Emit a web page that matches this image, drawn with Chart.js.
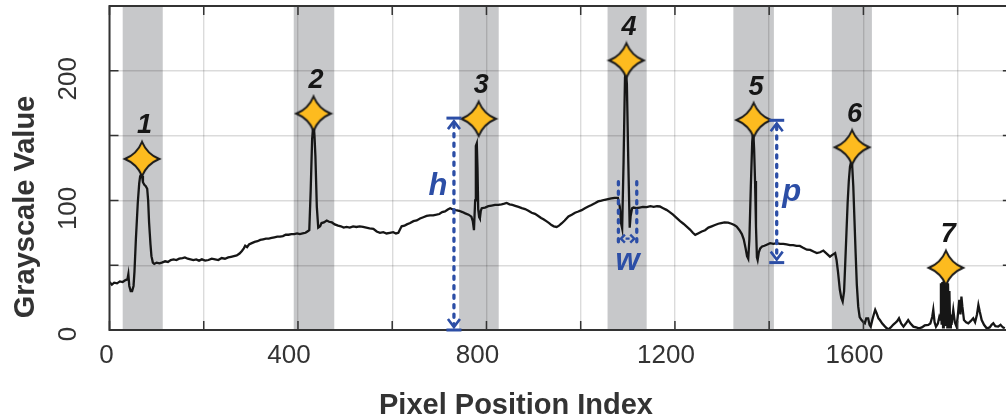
<!DOCTYPE html>
<html>
<head>
<meta charset="utf-8">
<script src="https://cdn.jsdelivr.net/npm/chart.js@4.4.1/dist/chart.umd.min.js"></script>
<style>
  html, body { margin: 0; padding: 0; background: #fff; }
  canvas { display: block; }
</style>
</head>
<body>
<canvas id="profile" width="1006" height="420"></canvas>
<script>
// Grayscale profile along the scan line
const pixelIndex = [
  0,5,10,16,22,28,34,38,40,42, 45,48,51,53,56,60,63,65,67,69, 71,74,77,80,82,84,87,89,92,95, 100,106,111,
  118,124,130,136,142,148,155,160,166,172, 178,184,190,196,203,210,217,224,231,238, 245,252,258,264,270,276,281,285,288,292,
  296,302,308,314,320,326,332,338,344,350, 356,362,368,374,380,386,392,398,404,410, 416,420,424,
  427,430,433,435,437,440,443,447,450,455, 461,466,472,478,485,491,497,503,510,517, 524,531,538,545,552,560,567,574,581,588, 595,602,608,613,
  617,620,626,631,638,645,652,659,666,673, 680,687,694,700,706,712,718,723,729,735, 742,749,755,762,768,771,773.5,776,777.5,779.5, 781,782.5,784.5,786,788,790,
  797,804,811,818,825,832,838,843,849,855, 861,868,875,882,889,896,903,910,916,921, 927,933,938,943,949,954,960,966,974,981,
  988,995,1002,1009,1016,1023,1030,1037,1044,1051, 1058,1065,1072,1079,
  1083,1086,1088,1091,1094,1096,1098,1101,1104,1106, 1109,1112,
  1118,1125,1132,1140,1148,1155,1162,1168,1175,1182, 1189,1196,1204,1211,1218,1225,1232,1238,1243,1249, 1257,1264,1271,1278,1285,1292,1298,1305,1313,1320, 1326,1331,1337,1342,1346,
  1350,1353,1355.6,1358,1361,1364,1366,1368,1370,1372, 1374,1375.5,1378,1381,1385,1390,1396,1402,1409,1416, 1423,1430,1437,1444,1451,1458,1465,1472,1480,1487, 1494,1501,1508,1515,1522,1529,1534,1540,
  1543,1546,1550,1553,1556,1559,1561,1564,1566.5,1569, 1571.5,1574,1576,1578.5,1581,1583.5,1586,1589,1592,1596, 1600,1603,1606,1610,1613,1615.5,1619,1622,1625,1628,
  1632,1635,1640,1645,1649,1653,1658,1663,1667,1672, 1675.5,1680,1685,1690,1695,1700,
  1706,1712,1718,1724,1730,1737.7,1742,1746,1748.3,1751, 1754,1758,1761,1763,1764.5,1766,1767.5,1769,1770.5,1772,
  1773.5,1775,1776.5,1778,1779.5,1781,1782.5,1784,1785.5,1787, 1790.7,1794,1797.6,1800,1803.5,1806,1808,1810,1813.4,1818,
  1822.6,1828,1833,1837,1841,1844,1847,1851,1856,1861.7, 1868,1872,1875.7,1880,1886,1891,1896,1900
];
const grayValue = [
  37,35,36.5,36,37.5,37,38.5,39,43,34, 30,30,34,45,70,98,113,118.5,120,119, 114,112,111,109,100,83,66,57,52,51, 52,51.5,52,
  53,52.5,54,54.5,54,55,55.5,56,55,54.5, 54,54.5,53.5,54.5,53.5,54,55,54.5,54,55.5, 55,56,56.5,57,57.5,59,61,63,65,64,
  66,67,68,68.5,69.5,70,70.5,70.5,71,71.5, 72,72,72.5,73.5,73.5,74,74,74.5,74,74.5, 75,76,77,
  108,147,161,150,134,95,79,80,82.5,83, 84.5,83.5,83,81.5,80.5,80,79,79.5,79,80, 79.5,80,79.5,79,78.5,78,76,75,75.5,74.5, 75,75.5,74.5,75,
  78,80,80.5,81.5,82.5,84,84.5,86,87,88, 88.5,88.5,89,89.5,91,91.5,93,94,93,92.5, 92,91,90,89,87.5,84,77,100,142,144, 125,93,87,86,92,94,
  94.5,95.5,96,96.5,96.5,97,97.5,98,97,96.5, 95.8,95,94,93.3,92,90.5,89.6,88,86.5,85.5, 84,82.5,81,80,79.5,80.5,82.4,84.5,87.6,89,
  90.5,91.4,92.5,94,95.3,96.5,97.8,99.2,99.8,100.5, 101,101.5,102,102,
  95,82,78.5,130,195,200,190,130,79,88, 94,94.5,
  94,94.5,95,94.8,95.5,95,95.5,95.3,94,92.7, 91,89,86.3,84,82,79.8,77.5,75,73.4,74.5, 76,77,79,80,81,82,82.5,83,82.9,82, 81,79.8,77,74,70,
  63,57,55,70,110,145,155,140,115,80, 56,54,60,63,64.5,65,66,67,66.5,67, 66.5,66.5,66,65.5,65.5,64.9,64.9,63.5,62,61.8, 60.5,59.3,60,61.3,59,56.6,58,59.3,
  54,45,31,25,22,30,47.7,75,98,115, 126,130,128,111,85,59,35,18,10,7.7, 6,5.2,9,9,4,2.6,8,12,15.5,13,
  9,7.7,5,3,1.5,0.5,2,4,5.2,7, 9,5,2.6,5,7.7,5,
  2.6,2,1.3,2,3.5,3.9,5,10,15.5,6, 2.6,5,10,8,36,4,37,2,38,5,
  38.6,3,37,2,36,6,30,2,12,4, 15.5,6,2.6,10,23.2,12,25.8,18,7.7,6,
  5.2,7,9,6,12,19.3,14,7.7,4,1.3, 2,4,5.2,3,2.6,4,2,1.3
];

// Detected peaks
const peakX = [69, 433, 783.5, 1097, 1367, 1576, 1775];
const peakY = [132, 167, 163, 208, 162, 141, 48];
const peakLabels = ['1', '2', '3', '4', '5', '6', '7'];

// Shaded peak windows
const bandStart = [28, 391, 742, 1057, 1324, 1533];
const bandEnd   = [113, 477, 826, 1140, 1410, 1618];

// Axis labels
const xTickLabels = [0, 400, 800, 1200, 1600];
const yTickLabels = [0, 100, 200];

// Peak measures: height h, prominence p, width w
const hMeasure = [731, 0, 163.5];
const pMeasure = [1416, 52, 161.8];
const wMeasure = [1080, 1119, 65, 116, 70.5];

const BLUE = '#2c4ea6';
const INK = '#333333';

function makeStar() {
  const c = document.createElement('canvas');
  c.width = 40; c.height = 40;
  const g = c.getContext('2d');
  const m = 20, R = 17.2, k = 5;
  g.beginPath();
  g.moveTo(m, m - R);
  g.quadraticCurveTo(m + k, m - k, m + R, m);
  g.quadraticCurveTo(m + k, m + k, m, m + R);
  g.quadraticCurveTo(m - k, m + k, m - R, m);
  g.quadraticCurveTo(m - k, m - k, m, m - R);
  g.closePath();
  g.fillStyle = '#fdbb1f';
  g.fill();
  g.lineWidth = 1.9;
  g.lineJoin = 'miter';
  g.strokeStyle = '#1a1a1a';
  g.stroke();
  return c;
}

const bandsPlugin = {
  id: 'bands',
  beforeDraw(chart) {
    const { ctx, chartArea: a, scales: { x } } = chart;
    ctx.save();
    ctx.fillStyle = '#c7c8ca';
    for (let i = 0; i < bandStart.length; i++) {
      const x0 = x.getPixelForValue(bandStart[i]);
      const x1 = x.getPixelForValue(bandEnd[i]);
      ctx.fillRect(x0, a.top, x1 - x0, a.bottom - a.top);
    }
    ctx.restore();
  }
};

function dotted(ctx, x0, y0, x1, y1) {
  ctx.save();
  ctx.setLineDash([3.2, 6.3]);
  ctx.lineCap = 'round';
  ctx.lineWidth = 3.3;
  ctx.beginPath();
  ctx.moveTo(x0, y0);
  ctx.lineTo(x1, y1);
  ctx.stroke();
  ctx.restore();
}

// bar plus chevron; dir = -1 for the upper end, +1 for the lower end
function endCap(ctx, px, py, dir) {
  ctx.save();
  ctx.lineWidth = 3;
  ctx.beginPath();
  ctx.moveTo(px - 7.5, py);
  ctx.lineTo(px + 7.5, py);
  ctx.stroke();
  ctx.lineWidth = 2.6;
  ctx.beginPath();
  ctx.moveTo(px - 6, py - dir * 11);
  ctx.lineTo(px, py - dir * 3);
  ctx.lineTo(px + 6, py - dir * 11);
  ctx.stroke();
  ctx.restore();
}

const framePlugin = {
  id: 'frame',
  afterDraw(chart) {
    const { ctx, chartArea: a, scales: { x, y } } = chart;
    const T = 9;
    const rightEdge = x.getPixelForValue(1915);
    ctx.save();

    // inward tick marks
    ctx.strokeStyle = INK;
    ctx.lineWidth = 1.5;
    ctx.beginPath();
    for (let v = 0; v <= 1900; v += 200) {
      const px = x.getPixelForValue(v);
      ctx.moveTo(px, a.bottom); ctx.lineTo(px, a.bottom - T);
      ctx.moveTo(px, a.top); ctx.lineTo(px, a.top + T);
    }
    for (let v = 0; v <= 250; v += 50) {
      const py = y.getPixelForValue(v);
      ctx.moveTo(a.left, py); ctx.lineTo(a.left + T, py);
      ctx.moveTo(rightEdge, py); ctx.lineTo(rightEdge - T, py);
    }
    ctx.stroke();

    // axes box
    ctx.lineWidth = 2;
    ctx.beginPath();
    ctx.moveTo(rightEdge, a.top);
    ctx.lineTo(a.left, a.top);
    ctx.lineTo(a.left, a.bottom);
    ctx.lineTo(rightEdge, a.bottom);
    ctx.stroke();

    // tick labels
    ctx.fillStyle = INK;
    ctx.font = '26px "Liberation Sans", Arial, sans-serif';
    ctx.textAlign = 'center';
    ctx.textBaseline = 'middle';
    xTickLabels.forEach(v => {
      ctx.fillText(String(v), x.getPixelForValue(v) + (v === 0 ? -3 : -9), 356);
    });
    yTickLabels.forEach(v => {
      ctx.save();
      ctx.translate(69, y.getPixelForValue(v) + (v === 0 ? 4 : 8));
      ctx.rotate(-Math.PI / 2);
      ctx.fillText(String(v), 0, 0);
      ctx.restore();
    });

    // axis titles
    ctx.font = 'bold 29px "Liberation Sans", Arial, sans-serif';
    ctx.textBaseline = 'alphabetic';
    ctx.fillText('Pixel Position Index', 516, 413.5);
    ctx.save();
    ctx.translate(33.5, 207);
    ctx.rotate(-Math.PI / 2);
    ctx.fillText('Grayscale Value', 0, 0);
    ctx.restore();

    // measurement markers
    ctx.strokeStyle = BLUE;
    ctx.fillStyle = BLUE;

    const hx = x.getPixelForValue(hMeasure[0]);
    const hb = y.getPixelForValue(hMeasure[1]);
    const ht = y.getPixelForValue(hMeasure[2]);
    dotted(ctx, hx, ht + 6, hx, hb - 6);
    endCap(ctx, hx, ht, -1);
    endCap(ctx, hx, hb, 1);

    const px = x.getPixelForValue(pMeasure[0]);
    const pb = y.getPixelForValue(pMeasure[1]);
    const pt = y.getPixelForValue(pMeasure[2]);
    dotted(ctx, px, pt + 6, px, pb - 6);
    endCap(ctx, px, pt, -1);
    endCap(ctx, px, pb, 1);

    const wl = x.getPixelForValue(wMeasure[0]);
    const wr = x.getPixelForValue(wMeasure[1]);
    const wb = y.getPixelForValue(wMeasure[2]);
    const wt = y.getPixelForValue(wMeasure[3]);
    const wy = y.getPixelForValue(wMeasure[4]);
    dotted(ctx, wl, wt + 2, wl, wb);
    dotted(ctx, wr, wt + 2, wr, wb);
    ctx.save();
    ctx.lineWidth = 2.4;
    ctx.beginPath();
    ctx.moveTo(wl + 6.5, wy - 4); ctx.lineTo(wl + 2.5, wy); ctx.lineTo(wl + 6.5, wy + 4);
    ctx.moveTo(wr - 6.5, wy - 4); ctx.lineTo(wr - 2.5, wy); ctx.lineTo(wr - 6.5, wy + 4);
    ctx.moveTo((wl + wr) / 2 - 2, wy); ctx.lineTo((wl + wr) / 2 + 2, wy);
    ctx.stroke();
    ctx.restore();

    ctx.font = 'italic bold 31px "Liberation Sans", Arial, sans-serif';
    ctx.textAlign = 'center';
    ctx.textBaseline = 'alphabetic';
    ctx.fillText('h', hx - 16, 195);
    ctx.fillText('p', px + 15, 200.5);
    ctx.fillText('w', (wl + wr) / 2, 270);

    // peak numbers
    const meta = chart.getDatasetMeta(0);
    ctx.fillStyle = '#161616';
    ctx.font = 'italic bold 27px "Liberation Sans", Arial, sans-serif';
    ctx.textBaseline = 'middle';
    meta.data.forEach((pt, i) => {
      ctx.fillText(peakLabels[i], pt.x + 2.5, pt.y - 33);
    });

    ctx.restore();
  }
};

const star = makeStar();

new Chart(document.getElementById('profile'), {
  type: 'line',
  data: {
    datasets: [
      {
        label: 'Peaks',
        data: peakX.map((v, i) => ({ x: v, y: peakY[i] })),
        showLine: false,
        pointStyle: star,
        pointRadius: 18,
        pointHoverRadius: 18
      },
      {
        label: 'Grayscale',
        data: pixelIndex.map((v, i) => ({ x: v, y: grayValue[i] })),
        borderColor: '#161616',
        borderWidth: 2.3,
        pointRadius: 0,
        tension: 0,
        fill: false
      }
    ]
  },
  options: {
    responsive: false,
    animation: false,
    devicePixelRatio: 1,
    events: [],
    layout: { autoPadding: false, padding: { top: 6, right: 0, bottom: 0, left: 0 } },
    plugins: { legend: { display: false }, tooltip: { enabled: false } },
    scales: {
      x: {
        type: 'linear',
        min: 0,
        max: 1902.6,
        ticks: { display: false, stepSize: 200, includeBounds: false },
        grid: { color: 'rgba(0,0,0,0.14)', lineWidth: 1.4, drawTicks: false },
        border: { display: false },
        afterFit(s) { s.height = 90; }
      },
      y: {
        min: 0,
        max: 250,
        ticks: { display: false, stepSize: 50 },
        grid: { color: 'rgba(0,0,0,0.14)', lineWidth: 1.4, drawTicks: false },
        border: { display: false },
        afterFit(s) { s.width = 109.5; }
      }
    }
  },
  plugins: [bandsPlugin, framePlugin]
});
</script>
</body>
</html>
